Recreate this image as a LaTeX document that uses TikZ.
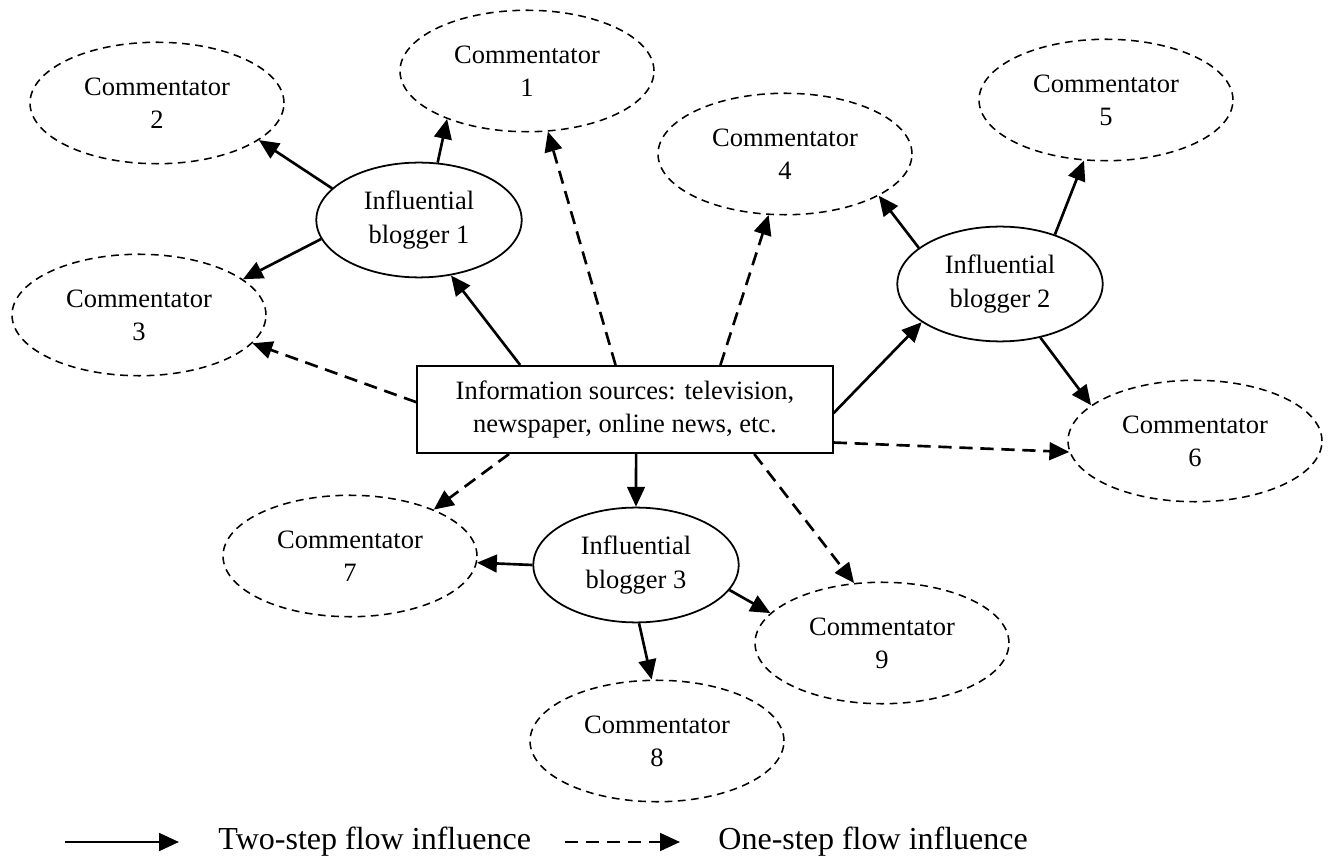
\documentclass[tikz,border=0pt]{standalone}
\usepackage{fontspec}
\setmainfont{Liberation Serif}
\usetikzlibrary{shapes.geometric,arrows.meta}

\begin{document}
\begin{tikzpicture}[x=0.4528pt,y=-0.4528pt,
        comm/.style={ellipse,draw,line width=0.7pt,dash pattern=on 3.5pt off 2.5pt,
            minimum width=115pt,minimum height=55pt,inner sep=0pt,align=center,
            font=\fontsize{12}{15}\selectfont},
        blogger/.style={ellipse,draw,line width=0.8pt,minimum width=93pt,minimum height=52pt,
            inner sep=0pt,align=center,font=\fontsize{12}{15}\selectfont},
        twostep/.style={-{Triangle[length=9pt,width=8pt]},line width=1.2pt},
        onestep/.style={twostep,dash pattern=on 6pt off 3.5pt},
        legend/.style={anchor=west,inner sep=0pt,font=\fontsize{14.5}{16}\selectfont}]
        \useasboundingbox (0,0) rectangle (1337,864);

        \node[draw,line width=0.9pt,minimum width=188pt,minimum height=39.4pt,
            align=center,font=\fontsize{12}{15}\selectfont] (src) at (625,409.5)
            {Information sources: television,\\newspaper, online news, etc.};

        \node[blogger] (ib1) at (419,220) {Influential\\blogger 1};
        \node[blogger] (ib2) at (1000,284) {Influential\\blogger 2};
        \node[blogger] (ib3) at (636,565) {Influential\\blogger 3};

        \node[comm] (c1) at (527,71) {Commentator\\1};
        \node[comm] (c2) at (157,103) {Commentator\\2};
        \node[comm] (c3) at (139,315) {Commentator\\3};
        \node[comm] (c4) at (785,154) {Commentator\\4};
        \node[comm] (c5) at (1106,100) {Commentator\\5};
        \node[comm] (c6) at (1195,441) {Commentator\\6};
        \node[comm] (c7) at (350,556) {Commentator\\7};
        \node[comm] (c8) at (657,741) {Commentator\\8};
        \node[comm] (c9) at (882,643) {Commentator\\9};

        % from the sources
        \draw[twostep] (src.157) -- (ib1.-60);
        \draw[twostep] (src.-1) -- (ib2.206);
        \draw[twostep] (src.-76) -- (ib3.90);
        \draw[onestep] (src.102) -- (c1.-71);
        \draw[onestep] (src.25) -- (c4.255);
        \draw[onestep] (src.178) -- (c3.-14);
        \draw[onestep] (src.-9) -- (c6.185);
        \draw[onestep] (src.-159) -- (c7.29);
        \draw[onestep] (src.-19) -- (c9.115);

        % from the bloggers
        \draw[twostep] (ib1.72) -- (c1.211);
        \draw[twostep] (ib1.160) -- (c2.-20);
        \draw[twostep] (ib1.191) -- (c3.19);
        \draw[twostep] (ib2.156) -- (c4.-24);
        \draw[twostep] (ib2.42) -- (c5.250);
        \draw[twostep] (ib2.-53) -- (c6.161);
        \draw[twostep] (ib3.180) -- (c7.-3);
        \draw[twostep] (ib3.-87) -- (c8.95);
        \draw[twostep] (ib3.-15) -- (c9.165);

        % legend
        \coordinate (k1a) at (65,842);
        \coordinate (k1b) at (179,842);
        \coordinate (k2a) at (565,842);
        \coordinate (k2b) at (680,842);
        \draw[twostep] (k1a) -- (k1b);
        \draw[onestep] (k2a) -- (k2b);
        \node[legend] (k1) at (218,842) {Two-step flow influence};
        \node[legend] (k2) at (718,842) {One-step flow influence};
\end{tikzpicture}
\end{document}
